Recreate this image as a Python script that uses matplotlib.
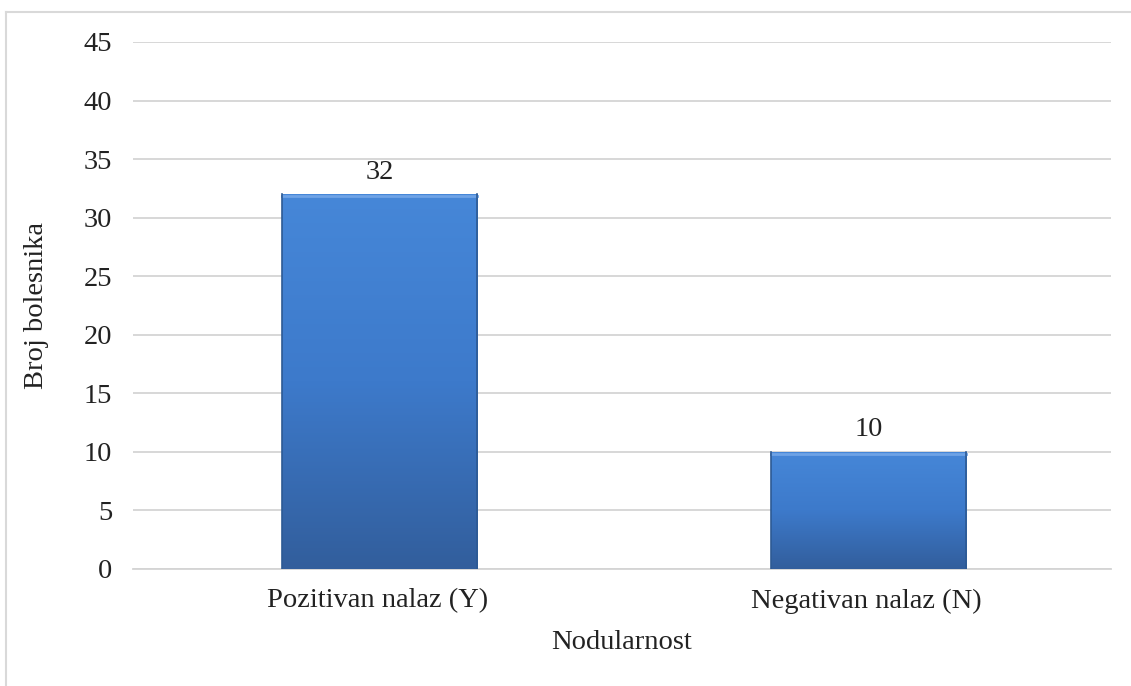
import numpy as np
import matplotlib.pyplot as plt
from matplotlib.colors import LinearSegmentedColormap
from matplotlib.lines import Line2D

plt.rcParams['font.family'] = ['Liberation Serif', 'DejaVu Serif']

categories = ['Pozitivan nalaz (Y)', 'Negativan nalaz (N)']
values = [32, 10]

fs = 20.5
fig = plt.figure(figsize=(11.31, 6.86), dpi=100)
ax = fig.add_axes([0.1176, 0.1706, 0.8647, 0.7682])

x = np.arange(len(categories))
width = 0.4
bars = ax.bar(x + 0.004, values, width=width, color='none', zorder=3)

# gradient fill clipped to every bar
cmap = LinearSegmentedColormap.from_list('bl', ['#325e9c', '#3d7acb', '#4687d8'])
grad = np.linspace(0, 1, 256).reshape(-1, 1)
for b in bars:
    x0, y0 = b.get_x(), b.get_y()
    w, h = b.get_width(), b.get_height()
    im = ax.imshow(grad, extent=(x0, x0 + w, y0, y0 + h), origin='lower',
                   cmap=cmap, aspect='auto', zorder=3)
    im.set_clip_path(b)
    ax.plot([x0, x0 + w], [y0 + h - 0.15, y0 + h - 0.15], color='#6ea3e6', lw=2, zorder=4)
    ax.plot([x0, x0], [y0, y0 + h], color='#2d5a94', lw=1.2, zorder=4)
    ax.plot([x0 + w, x0 + w], [y0, y0 + h], color='#2d5a94', lw=1.2, zorder=4)
    ax.text(x0 + w / 2, y0 + h + 0.8, str(int(h)), ha='center', va='bottom',
            fontsize=fs, color='#222222')

ax.set_xlim(-0.5, 1.5)
ax.set_ylim(0, 45)
ax.set_yticks(np.arange(0, 46, 5))
ax.set_xticks(x)
ax.set_xticklabels(categories)
ax.tick_params(axis='both', length=0, labelsize=fs, colors='#222222')
ax.tick_params(axis='y', pad=15)
ax.tick_params(axis='x', pad=14)
ax.grid(axis='y', color='#d4d4d4', lw=1.3, zorder=0)
for s in ['top', 'right', 'left']:
    ax.spines[s].set_visible(False)
ax.spines['bottom'].set_color('#d4d4d4')
ax.spines['bottom'].set_linewidth(1.3)

ax.set_ylabel('Broj bolesnika', fontsize=fs, color='#222222', labelpad=25)
ax.set_xlabel('Nodularnost', fontsize=fs, color='#222222', labelpad=12)

# outer chart frame
fig.add_artist(Line2D([6 / 1131, 6 / 1131], [0, 1 - 12 / 686], color='#d9d9d9', lw=1.5))
fig.add_artist(Line2D([6 / 1131, 1], [1 - 12 / 686, 1 - 12 / 686], color='#d9d9d9', lw=1.5))

fig.savefig('out.png', dpi=100)
